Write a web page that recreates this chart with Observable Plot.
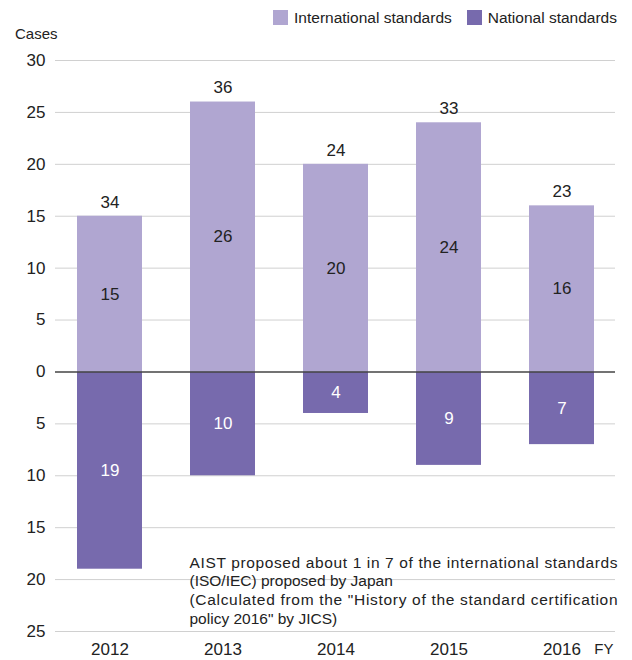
<!DOCTYPE html>
<html>
<head>
<meta charset="utf-8">
<script src="https://cdn.jsdelivr.net/npm/d3@7"></script>
<script src="https://cdn.jsdelivr.net/npm/@observablehq/plot@0.6"></script>
<style>
  body { margin: 0; background: #fff; font-family: "Liberation Sans", Arial, Helvetica, sans-serif; color: #222; }
  #wrap { width: 632px; }
  .legend { height: 26px; display: flex; justify-content: flex-end; align-items: center; padding-right: 15px; padding-top: 9px; box-sizing: border-box; font-size: 15.5px; }
  .legend .item { display: flex; align-items: center; margin-left: 15px; }
  .legend .sw { width: 15px; height: 15px; margin-right: 6px; }
  .unit { height: 16px; line-height: 16px; padding-left: 15px; font-size: 15px; }
</style>
</head>
<body>
<div id="wrap">
  <div class="legend" id="legend"></div>
  <div class="unit" id="unit"></div>
  <div id="chart"></div>
</div>
<script>
// Fiscal years and the number of standards proposed each year
const years = ["2012", "2013", "2014", "2015", "2016"];
const international = [15, 26, 20, 24, 16];
const national = [19, 10, 4, 9, 7];
const yTicks = [-25, -20, -15, -10, -5, 0, 5, 10, 15, 20, 25, 30];

const seriesNames = ["International standards", "National standards"];
const seriesColors = ["#b0a6d1", "#776aad"];
const yUnit = "Cases";
const xUnit = "FY";

const noteLines = [
  "AIST proposed about 1 in 7 of the international standards",
  "(ISO/IEC) proposed by Japan",
  "(Calculated from the \"History of the standard certification",
  "policy 2016\" by JICS)"
];
// lines of the footnote that are set justified to the full width
const justifiedLines = [0, 2];

const rows = years.map((year, i) => ({
  year,
  international: international[i],
  national: national[i],
  total: international[i] + national[i]
}));

// Legend and unit caption above the chart
const legend = document.getElementById("legend");
seriesNames.forEach((name, i) => {
  const item = document.createElement("div");
  item.className = "item";
  const sw = document.createElement("span");
  sw.className = "sw";
  sw.style.background = seriesColors[i];
  item.appendChild(sw);
  item.appendChild(document.createTextNode(name));
  legend.appendChild(item);
});
document.getElementById("unit").textContent = yUnit;

const font = "\"Liberation Sans\", Arial, Helvetica, sans-serif";
const noteLineHeight = 18.6;

const chart = Plot.plot({
  width: 632,
  height: 618,
  marginTop: 18,
  marginBottom: 29,
  marginLeft: 55,
  marginRight: 17,
  style: { fontFamily: font, fontSize: "17px", color: "#222", background: "#fff" },
  x: { domain: years, paddingInner: 0.425, paddingOuter: 0.19, label: null },
  y: { domain: [-25, 30], label: null },
  marks: [
    Plot.ruleY(yTicks.filter(t => t !== 0), { stroke: "#d0d0d0", strokeWidth: 1 }),
    Plot.barY(rows, { x: "year", y: "international", fill: seriesColors[0] }),
    Plot.barY(rows, { x: "year", y: d => -d.national, fill: seriesColors[1] }),
    Plot.ruleY([0], { stroke: "#444", strokeWidth: 1.5 }),
    Plot.axisY({ ticks: yTicks, tickSize: 0, tickPadding: 10, tickFormat: d => Math.abs(d), fontSize: 17, label: null }),
    Plot.axisX({ tickSize: 0, tickPadding: 11, fontSize: 17, label: null }),
    // totals above each bar, and the count inside each segment
    Plot.text(rows, { x: "year", y: "international", text: "total", fill: "#222", fontSize: 17, dy: -14, lineAnchor: "middle" }),
    Plot.text(rows, { x: "year", y: d => d.international / 2, text: "international", fill: "#222", fontSize: 17 }),
    Plot.text(rows, { x: "year", y: d => -d.national / 2, text: "national", fill: "#fff", fontSize: 17 }),
    // x unit
    Plot.text([xUnit], { frameAnchor: "bottom-right", textAnchor: "end", dx: -2, dy: 18, lineAnchor: "middle", fontSize: 15, fill: "#222" }),
    // footnote, one text per line
    ...noteLines.map((line, i) => Plot.text([line], {
      frameAnchor: "bottom-left", textAnchor: "start", lineAnchor: "bottom",
      dx: 134, dy: -8 - (noteLines.length - 1 - i) * noteLineHeight,
      fontSize: 15.5, fill: "#222"
    }))
  ]
});

document.getElementById("chart").appendChild(chart);

// justify the long footnote lines across the note's width
const noteWidth = 428;
const texts = Array.from(chart.querySelectorAll("text"));
justifiedLines.forEach(i => {
  const t = texts.find(el => el.textContent === noteLines[i]);
  if (!t) return;
  t.setAttribute("textLength", noteWidth);
  t.setAttribute("lengthAdjust", "spacing");
});
</script>
</body>
</html>
